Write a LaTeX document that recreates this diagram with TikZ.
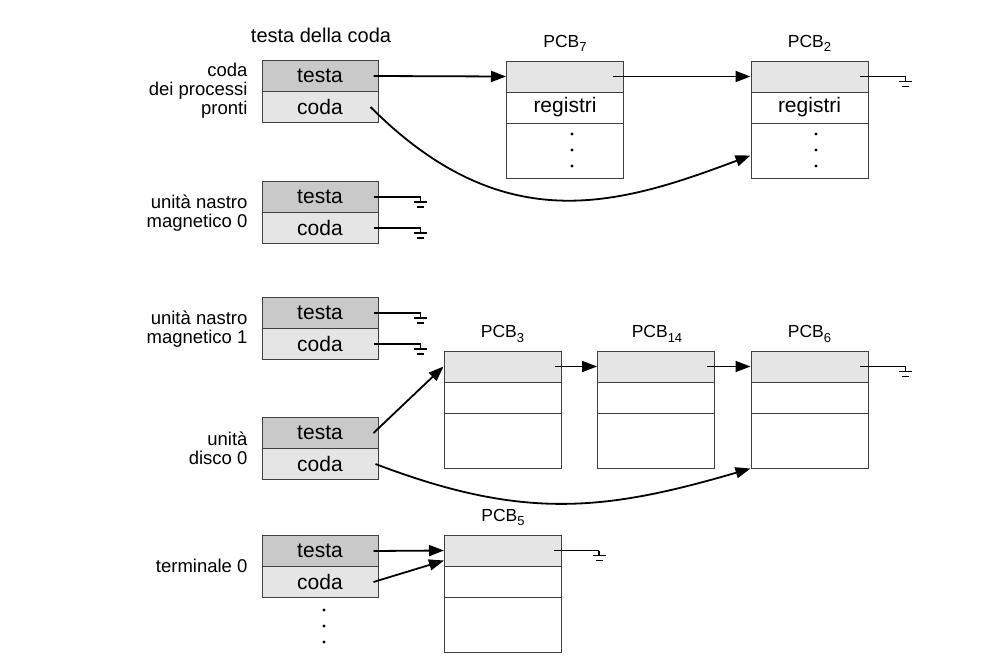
\documentclass[tikz,border=0pt]{standalone}
\usepackage{fontspec}
\setmainfont{Liberation Sans}
\usetikzlibrary{arrows.meta}
\newcommand{\pcbname}[1]{PCB\raisebox{-4.5pt}{\fontsize{13}{14}\selectfont #1}}

\begin{document}
\begin{tikzpicture}[x=1pt,y=-1pt]
	% Set styles
	\tikzset{
		testa box/.style={draw=black!75, line width=1pt, fill=black!21, minimum width=116pt, minimum height=31pt, inner sep=0pt, font=\fontsize{21}{24}\selectfont},
		coda box/.style={testa box, fill=black!10},
		pcb head/.style={draw=black!75, line width=1pt, fill=black!10, minimum width=117pt, minimum height=31pt, inner sep=0pt, font=\fontsize{21}{24}\selectfont},
		pcb row/.style={pcb head, fill=white},
		pcb rest/.style={pcb row, minimum height=55pt},
		queue label/.style={anchor=east, align=right, font=\fontsize{18.5}{19}\selectfont},
		pcb label/.style={anchor=base, font=\fontsize{17.5}{20}\selectfont},
		link/.style={line width=1.8pt, -{Triangle[length=15pt,width=11pt]}},
		nil/.style={line width=1.8pt},
		ground/.pic={\draw[line width=1.6pt] (0,0) -- (0,5) (-6.5,5) -- (6.5,5) (-3.5,10) -- (3.5,10);}
	}
	\useasboundingbox (0,0) rectangle (985,664);
	
	% Draw the queue headers
	\node [testa box] (rt) at (320,76) {testa};
	\node [coda box] (rc) at (320,107) {coda};
	\node [testa box] (n0t) at (320,197) {testa};
	\node [coda box] (n0c) at (320,228) {coda};
	\node [testa box] (n1t) at (320,313) {testa};
	\node [coda box] (n1c) at (320,344) {coda};
	\node [testa box] (d0t) at (320,433) {testa};
	\node [coda box] (d0c) at (320,464) {coda};
	\node [testa box] (t0t) at (320,551) {testa};
	\node [coda box] (t0c) at (320,582) {coda};
	\foreach \yy in {610,626,642} \fill (324,\yy) circle (1.7pt);
	
	% Labels for the queues
	\node [font=\fontsize{20}{22}\selectfont] (title) at (321,35) {testa della coda};
	\node [queue label] (lr) at (251,91) {coda\\dei processi\\pronti};
	\node [queue label] (ln0) at (251,213) {unità nastro\\magnetico 0};
	\node [queue label] (ln1) at (251,329) {unità nastro\\magnetico 1};
	\node [queue label] (ld0) at (251,448) {unità\\disco 0};
	\node [queue label] (lt0) at (251,566) {terminale 0};
	
	% Draw the PCBs
	\node [pcb head] (h7) at (565,76.5) {};
	\node [pcb row] (r7) at (565,107.5) {registri};
	\node [pcb rest] (b7) at (565,150.5) {};
	\node [pcb head] (h2) at (809.5,76.5) {};
	\node [pcb row] (r2) at (809.5,107.5) {registri};
	\node [pcb rest] (b2) at (809.5,150.5) {};
	\foreach \yy in {134,150,166} {
		\fill (572,\yy) circle (1.7pt);
		\fill (816,\yy) circle (1.7pt);
	}
	\node [pcb head] (h3) at (502.5,366.5) {};
	\node [pcb row] (r3) at (502.5,397.5) {};
	\node [pcb rest] (b3) at (502.5,440.5) {};
	\node [pcb head] (h14) at (656,366.5) {};
	\node [pcb row] (r14) at (656,397.5) {};
	\node [pcb rest] (b14) at (656,440.5) {};
	\node [pcb head] (h6) at (809.5,366.5) {};
	\node [pcb row] (r6) at (809.5,397.5) {};
	\node [pcb rest] (b6) at (809.5,440.5) {};
	\node [pcb head] (h5) at (503,550.5) {};
	\node [pcb row] (r5) at (503,581.5) {};
	\node [pcb rest] (b5) at (503,624.5) {};
	
	% Labels for the PCBs
	\node [pcb label] (l7) at (565,47) {\pcbname{7}};
	\node [pcb label] (l2) at (809.5,47) {\pcbname{2}};
	\node [pcb label] (l3) at (502.5,337.5) {\pcbname{3}};
	\node [pcb label] (l14) at (657,337.5) {\pcbname{14}};
	\node [pcb label] (l6) at (809.5,337.5) {\pcbname{6}};
	\node [pcb label] (l5) at (503,521) {\pcbname{5}};
	
	% Ready queue
	\draw [link] ([xshift=-5pt]rt.east) -- (h7.west);
	\draw [link] ([xshift=-11pt]h7.east) -- (h2.west);
	\draw [nil] ([xshift=-9pt]h2.east) -- ++(46,0) coordinate (g2) pic {ground};
	\draw [link] ([xshift=-8pt]rc.east) .. controls +(133,133) and +(-133,50) .. ([yshift=-5pt]b2.west);
	
	% Empty tape queues
	\foreach \q in {n0t,n0c,n1t,n1c}
		\draw [nil] ([xshift=-5pt]\q.east) -- ++(47,0) coordinate (g\q) pic {ground};
	
	% Disk queue
	\draw [link] ([xshift=-5pt]d0t.east) -- (h3.west);
	\draw [link] ([xshift=-7pt]h3.east) -- (h14.west);
	\draw [link] ([xshift=-8pt]h14.east) -- (h6.west);
	\draw [nil] ([xshift=-9pt]h6.east) -- ++(46,0) coordinate (g6) pic {ground};
	\draw [link] ([xshift=-3pt]d0c.east) .. controls +(147,56) and +(-147,43) .. (b6.south west);
	
	% Terminal queue
	\draw [link] ([xshift=-5pt]t0t.east) -- (h5.west);
	\draw [link] ([xshift=-5pt]t0c.east) -- ([yshift=-10pt]h5.west);
	\draw [nil] ([xshift=-8pt]h5.east) -- ++(45,0) coordinate (g5) pic {ground};
	
\end{tikzpicture}
\end{document}
